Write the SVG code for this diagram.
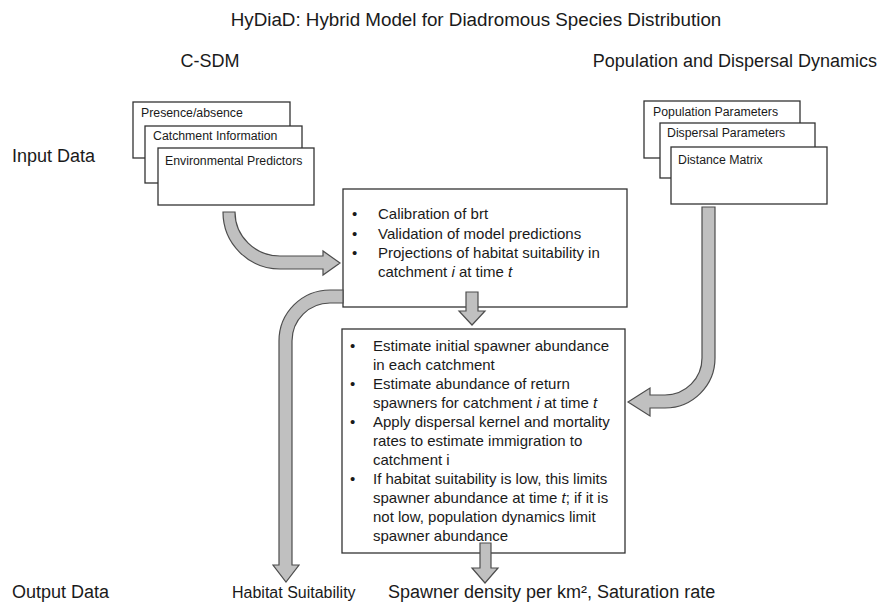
<svg xmlns="http://www.w3.org/2000/svg" width="883" height="607" viewBox="0 0 883 607">
<style>
text{font-family:"Liberation Sans",Arial,sans-serif;fill:#1a1a1a}
.box{fill:#fff;stroke:#333;stroke-width:1.3}
.sm{font-size:12.3px}
.bd{font-size:15px}
.hd{font-size:18px}
.arr{fill:#c0c0c0;stroke:#4d4d4d;stroke-width:1.2;stroke-linejoin:miter}
</style>
<rect width="883" height="607" fill="#fff"/>
<g id="title"><text x="476" y="26" text-anchor="middle" style="font-size:18.8px">HyDiaD: Hybrid Model for Diadromous Species Distribution</text></g>
<g id="header-csdm"><text class="hd" x="210" y="67" text-anchor="middle">C-SDM</text></g>
<g id="header-pdd"><text class="hd" x="877" y="67" text-anchor="end">Population and Dispersal Dynamics</text></g>
<g id="label-input"><text class="hd" x="12" y="162">Input Data</text></g>
<g id="label-output"><text class="hd" x="12" y="598">Output Data</text></g>

<g id="csdm-inputs">
<rect class="box" x="133" y="102" width="157" height="56"/>
<text class="sm" x="141" y="117">Presence/absence</text>
<rect class="box" x="145" y="126" width="157" height="57"/>
<text class="sm" x="153" y="140">Catchment Information</text>
<rect class="box" x="158" y="148" width="156" height="57"/>
<text class="sm" x="165" y="165">Environmental Predictors</text>
</g>

<g id="pdd-inputs">
<rect class="box" x="644" y="101" width="156" height="57"/>
<text class="sm" x="653" y="116">Population Parameters</text>
<rect class="box" x="660" y="123" width="155" height="55"/>
<text class="sm" x="667" y="137">Dispersal Parameters</text>
<rect class="box" x="671" y="147" width="156" height="57"/>
<text class="sm" x="678" y="164">Distance Matrix</text>
</g>

<g id="csdm-process">
<rect class="box" x="343" y="189" width="284" height="118"/>
<text class="bd" x="352" y="219">•</text><text class="bd" x="378" y="219">Calibration of brt</text>
<text class="bd" x="352" y="239">•</text><text class="bd" x="378" y="239">Validation of model predictions</text>
<text class="bd" x="352" y="258">•</text><text class="bd" x="378" y="258">Projections of habitat suitability in</text>
<text class="bd" x="378" y="277">catchment <tspan font-style="italic">i</tspan> at time <tspan font-style="italic">t</tspan></text>
</g>

<g id="population-process">
<rect class="box" x="342" y="329" width="283" height="224"/>
<text class="bd" x="350" y="351">•</text><text class="bd" x="373" y="351">Estimate initial spawner abundance</text>
<text class="bd" x="373" y="370">in each catchment</text>
<text class="bd" x="350" y="389">•</text><text class="bd" x="373" y="389">Estimate abundance of return</text>
<text class="bd" x="373" y="408">spawners for catchment <tspan font-style="italic">i</tspan> at time <tspan font-style="italic">t</tspan></text>
<text class="bd" x="350" y="427">•</text><text class="bd" x="373" y="427">Apply dispersal kernel and mortality</text>
<text class="bd" x="373" y="446">rates to estimate immigration to</text>
<text class="bd" x="373" y="465">catchment i</text>
<text class="bd" x="350" y="484">•</text><text class="bd" x="373" y="484">If habitat suitability is low, this limits</text>
<text class="bd" x="373" y="503">spawner abundance at time <tspan font-style="italic">t</tspan>; if it is</text>
<text class="bd" x="373" y="522">not low, population dynamics limit</text>
<text class="bd" x="373" y="541">spawner abundance</text>
</g>

<g id="out-habitat"><text x="232" y="598" style="font-size:16px">Habitat Suitability</text></g>
<g id="out-spawner"><text class="hd" x="388" y="598">Spawner density per km², Saturation rate</text></g>

<g id="connectors">
<path class="arr" d="M223,212 L235,212 A45,44 0 0 0 280,256 L323,256 L323,251 L340,263 L323,275 L323,269 L280,269 A57,57 0 0 1 223,212 Z"/>
<path class="arr" d="M343,290 L330,290 A51,51 0 0 0 279,341 L279,565 L273,565 L286,582 L299,565 L292,565 L292,341 A38,38 0 0 1 330,303 L343,303 Z"/>
<path class="arr" d="M466,292 L478,292 L478,311 L485,311 L472,325 L459,311 L466,311 Z"/>
<path class="arr" d="M480,543 L491,543 L491,568 L498,568 L485,583 L472,568 L480,568 Z"/>
<path class="arr" d="M702,207 L715,207 L715,358 A50,50 0 0 1 665,408 L650,408 L650,416 L628,402 L650,388 L650,395 L665,395 A37,37 0 0 0 702,358 Z"/>
</g>
</svg>
